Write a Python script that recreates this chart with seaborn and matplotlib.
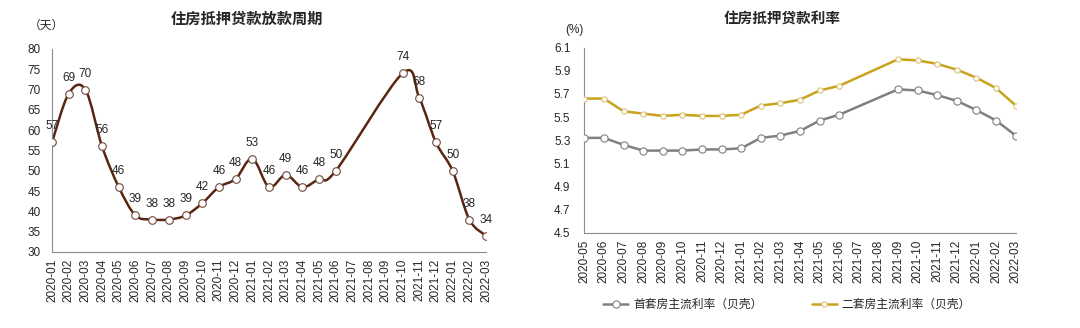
import numpy as np
import pandas as pd
import matplotlib
matplotlib.use("Agg")
import matplotlib.pyplot as plt
from matplotlib.path import Path
from matplotlib.patches import PathPatch
import seaborn as sns

# ---------------- data ----------------
months_left = ["2020-01", "2020-02", "2020-03", "2020-04", "2020-05", "2020-06", "2020-07",
               "2020-08", "2020-09", "2020-10", "2020-11", "2020-12", "2021-01", "2021-02",
               "2021-03", "2021-04", "2021-05", "2021-06", "2021-07", "2021-08", "2021-09",
               "2021-10", "2021-11", "2021-12", "2022-01", "2022-02", "2022-03"]
loan_days = [57, 69, 70, 56, 46, 39, 38, 38, 39, 42, 46, 48, 53, 46, 49, 46, 48, 50,
             None, None, None, 74, 68, 57, 50, 38, 34]

months_right = ["2020-05", "2020-06", "2020-07", "2020-08", "2020-09", "2020-10", "2020-11",
                "2020-12", "2021-01", "2021-02", "2021-03", "2021-04", "2021-05", "2021-06",
                "2021-07", "2021-08", "2021-09", "2021-10", "2021-11", "2021-12", "2022-01",
                "2022-02", "2022-03"]
first_home = [5.32, 5.32, 5.26, 5.21, 5.21, 5.21, 5.22, 5.22, 5.23, 5.32, 5.34, 5.38, 5.47,
              5.52, None, None, 5.74, 5.73, 5.69, 5.64, 5.56, 5.47, 5.34]
second_home = [5.66, 5.66, 5.55, 5.53, 5.51, 5.52, 5.51, 5.51, 5.52, 5.60, 5.62, 5.65, 5.73,
               5.77, None, None, 6.00, 5.99, 5.96, 5.91, 5.84, 5.75, 5.60]

left_title = "住房抵押贷款放款周期"
right_title = "住房抵押贷款利率"
left_unit = "（天）"
right_unit = "(%)"
name_first = "首套房主流利率（贝壳）"
name_second = "二套房主流利率（贝壳）"
left_yticks = [30, 35, 40, 45, 50, 55, 60, 65, 70, 75, 80]
right_yticks = [4.5, 4.7, 4.9, 5.1, 5.3, 5.5, 5.7, 5.9, 6.1]

# ---------------- style ----------------
sns.set_theme(style="white")
plt.rcParams["font.family"] = ["Liberation Sans", "Noto Sans CJK SC", "DejaVu Sans"]
plt.rcParams["axes.unicode_minus"] = False

BROWN = "#5a2612"
GRAY = "#808080"
GOLD = "#c9a31c"
SPINE = "#8c8c8c"
TXT = "#262626"
FS = 8.5

fig = plt.figure(figsize=(10.8, 3.28), dpi=100)
ax1 = fig.add_axes([52 / 1080, 1 - 252 / 328, 434 / 1080, (252 - 49) / 328])
ax2 = fig.add_axes([584.3 / 1080, 1 - 232.7 / 328, 431.4 / 1080, (232.7 - 47.7) / 328])


def style_axis(ax):
    for s in ["top", "right"]:
        ax.spines[s].set_visible(False)
    for s in ["left", "bottom"]:
        ax.spines[s].set_color(SPINE)
        ax.spines[s].set_linewidth(0.8)
    ax.tick_params(axis="both", which="both", direction="out", length=3, width=0.8,
                   color=SPINE, labelsize=FS, labelcolor=TXT)
    ax.tick_params(axis="x", labelrotation=90, pad=2)
    ax.tick_params(axis="y", pad=5)
    ax.grid(False)


# ---------------- left chart ----------------
df_l = pd.DataFrame({"pos": np.arange(len(months_left)), "val": loan_days}).dropna()
xs = df_l["pos"].to_numpy(float)
ys = df_l["val"].to_numpy(float)

# smoothed connecting curve, as Excel's smoothed line
verts = [(xs[0], ys[0])]
codes = [Path.MOVETO]
n = len(xs)
for i in range(n - 1):
    p0 = np.array([xs[max(i - 1, 0)], ys[max(i - 1, 0)]])
    p1 = np.array([xs[i], ys[i]])
    p2 = np.array([xs[i + 1], ys[i + 1]])
    p3 = np.array([xs[min(i + 2, n - 1)], ys[min(i + 2, n - 1)]])
    c1 = p1 + (p2 - p0) / 6.0
    c2 = p2 - (p3 - p1) / 6.0
    verts += [tuple(c1), tuple(c2), tuple(p2)]
    codes += [Path.CURVE4] * 3
ax1.add_patch(PathPatch(Path(verts, codes), facecolor="none", edgecolor=BROWN, lw=1.8,
                        zorder=2, capstyle="round", joinstyle="round"))

sns.scatterplot(data=df_l, x="pos", y="val", ax=ax1, s=30, marker="o",
                facecolor="white", edgecolor="#6e4a3c", linewidth=0.8, zorder=3, legend=False)

for x, y in zip(xs, ys):
    ax1.annotate(f"{int(y)}", (x, y), xytext=(0, 11.5), textcoords="offset points",
                 ha="center", va="center", fontsize=FS, color=TXT, zorder=4)

ax1.set_xlim(0, len(months_left) - 1)
ax1.set_ylim(30, 80)
ax1.set_xticks(np.arange(len(months_left)))
ax1.set_xticklabels(months_left)
ax1.set_yticks(left_yticks)
ax1.set_xlabel("")
ax1.set_ylabel("")
style_axis(ax1)
fig.text(247 / 1080, 1 - 20 / 328, left_title, ha="center", va="center",
         fontsize=11, fontweight="bold", color=TXT)
fig.text(46 / 1080, 1 - 26 / 328, left_unit, ha="center", va="center", fontsize=FS, color=TXT)

# ---------------- right chart ----------------
df_r = pd.DataFrame({"pos": np.arange(len(months_right)),
                     name_first: first_home, name_second: second_home})
d1 = df_r[["pos", name_first]].dropna()
d2 = df_r[["pos", name_second]].dropna()

sns.lineplot(data=d1, x="pos", y=name_first, ax=ax2, color=GRAY, lw=1.8, marker="o",
             markersize=5.2, markerfacecolor="white", markeredgecolor=GRAY, markeredgewidth=0.8,
             label=name_first, legend=False, zorder=3)
sns.lineplot(data=d2, x="pos", y=name_second, ax=ax2, color=GOLD, lw=1.8, marker="o",
             markersize=3.8, markerfacecolor="white", markeredgecolor="#d9c27a", markeredgewidth=0.8,
             label=name_second, legend=False, zorder=3)

ax2.set_xlim(0, len(months_right) - 1)
ax2.set_ylim(4.5, 6.1)
ax2.set_xticks(np.arange(len(months_right)))
ax2.set_xticklabels(months_right)
ax2.set_yticks(right_yticks)
ax2.set_yticklabels([f"{v:.1f}" for v in right_yticks])
ax2.set_xlabel("")
ax2.set_ylabel("")
style_axis(ax2)
ax2.tick_params(axis="y", pad=7)
fig.text(781.7 / 1080, 1 - 20 / 328, right_title, ha="center", va="center",
         fontsize=10.5, fontweight="bold", color=TXT)
fig.text(574 / 1080, 1 - 30 / 328, right_unit, ha="center", va="center", fontsize=FS, color=TXT)

handles, labels = ax2.get_legend_handles_labels()
fig.legend(handles, labels, loc="center", bbox_to_anchor=(787 / 1080, 1 - 305 / 328),
           ncol=2, frameon=False, fontsize=FS, handlelength=2.1, handletextpad=0.4,
           columnspacing=4.2, labelcolor=TXT)

fig.savefig("out.png", dpi=100, facecolor="white")
